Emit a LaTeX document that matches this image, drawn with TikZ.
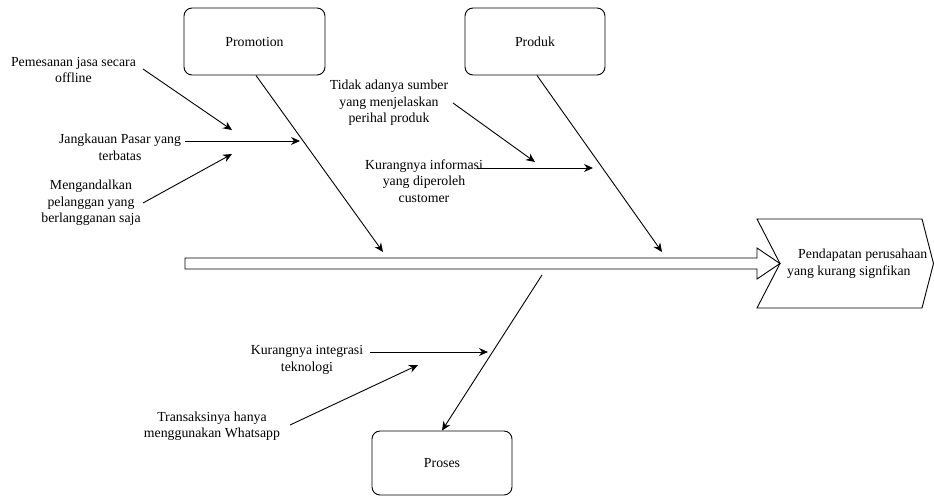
\documentclass[tikz,border=0pt]{standalone}
\usepackage{fontspec}
\setmainfont{Liberation Serif}
\usetikzlibrary{arrows.meta}
\begin{document}
\begin{tikzpicture}[x=1pt,y=-1pt,
  every node/.style={font=\fontsize{13.8}{16.5}\selectfont},
  catbox/.style={draw, line width=0.9pt, rounded corners=8pt, minimum width=141pt, minimum height=67pt, inner sep=0pt},
  lbl/.style={align=center, inner sep=0pt},
  conn/.style={line width=0.9pt, -{Stealth[length=9pt,width=8pt]}},
  bone/.style={line width=0.9pt, -{Stealth[length=9pt,width=8pt]}},
  shape line/.style={draw, line width=0.9pt, line join=miter}
]
\useasboundingbox (0,0) rectangle (934,496);

% category boxes
\node[catbox] (prom) at (254.5,41.5) {Promotion};
\node[catbox, minimum width=140pt] (prod) at (535,41.5) {Produk};
\node[catbox, minimum width=140pt, minimum height=64pt] (pros) at (442,463) {Proses};

% spine (block arrow)
\draw[shape line] (185,258) -- (757,258) -- (757,248) -- (780,263.5) -- (757,279) -- (757,269) -- (185,269) -- cycle;

% effect (chevron)
\draw[shape line] (757,219) -- (922,219) -- (933.5,263.5) -- (922,308) -- (757,308) -- (780,263.5) -- cycle;
\node[align=left, inner sep=0pt, anchor=west] (effect) at (787,263.5) {\hspace*{11pt}Pendapatan perusahaan\\yang kurang signfikan};

% bone end points on spine
\coordinate (sp1) at (383,252);
\coordinate (sp2) at (662,252);
\coordinate (sp3) at (542,275);

\draw[bone] ([xshift=1.5pt]prom.south) -- (sp1);
\draw[bone] ([xshift=2pt]prod.south) -- (sp2);
\draw[bone] (sp3) -- (pros.north);

% cause labels
\node[lbl] (c1) at (73.5,70) {Pemesanan jasa secara\\offline};
\node[lbl] (c2) at (120,147.5) {Jangkauan Pasar yang\\terbatas};
\node[lbl] (c3) at (91,203) {Mengandalkan\\pelanggan yang\\berlangganan saja};
\node[lbl] (c4) at (389,103) {Tidak adanya sumber\\yang menjelaskan\\perihal produk};
\node[lbl] (c5) at (424,181) {Kurangnya informasi\\yang diperoleh\\customer};
\node[lbl] (c6) at (307,360) {Kurangnya integrasi\\teknologi};
\node[lbl] (c7) at (212,426) {Transaksinya hanya\\menggunakan Whatsapp};

% arrow end points
\coordinate (a1s) at (143,69);  \coordinate (a1e) at (232,130);
\coordinate (a2s) at (185,141); \coordinate (a2e) at (300,141);
\coordinate (a3s) at (143,203); \coordinate (a3e) at (232,154);
\coordinate (a4s) at (453,103); \coordinate (a4e) at (535,162);
\coordinate (a5s) at (477,168); \coordinate (a5e) at (593,168);
\coordinate (a6s) at (370,352); \coordinate (a6e) at (488,352);
\coordinate (a7s) at (290,425); \coordinate (a7e) at (418,365);

\draw[conn] (a1s) -- (a1e);
\draw[conn] (a2s) -- (a2e);
\draw[conn] (a3s) -- (a3e);
\draw[conn] (a4s) -- (a4e);
\draw[conn] (a5s) -- (a5e);
\draw[conn] (a6s) -- (a6e);
\draw[conn] (a7s) -- (a7e);
\end{tikzpicture}
\end{document}
